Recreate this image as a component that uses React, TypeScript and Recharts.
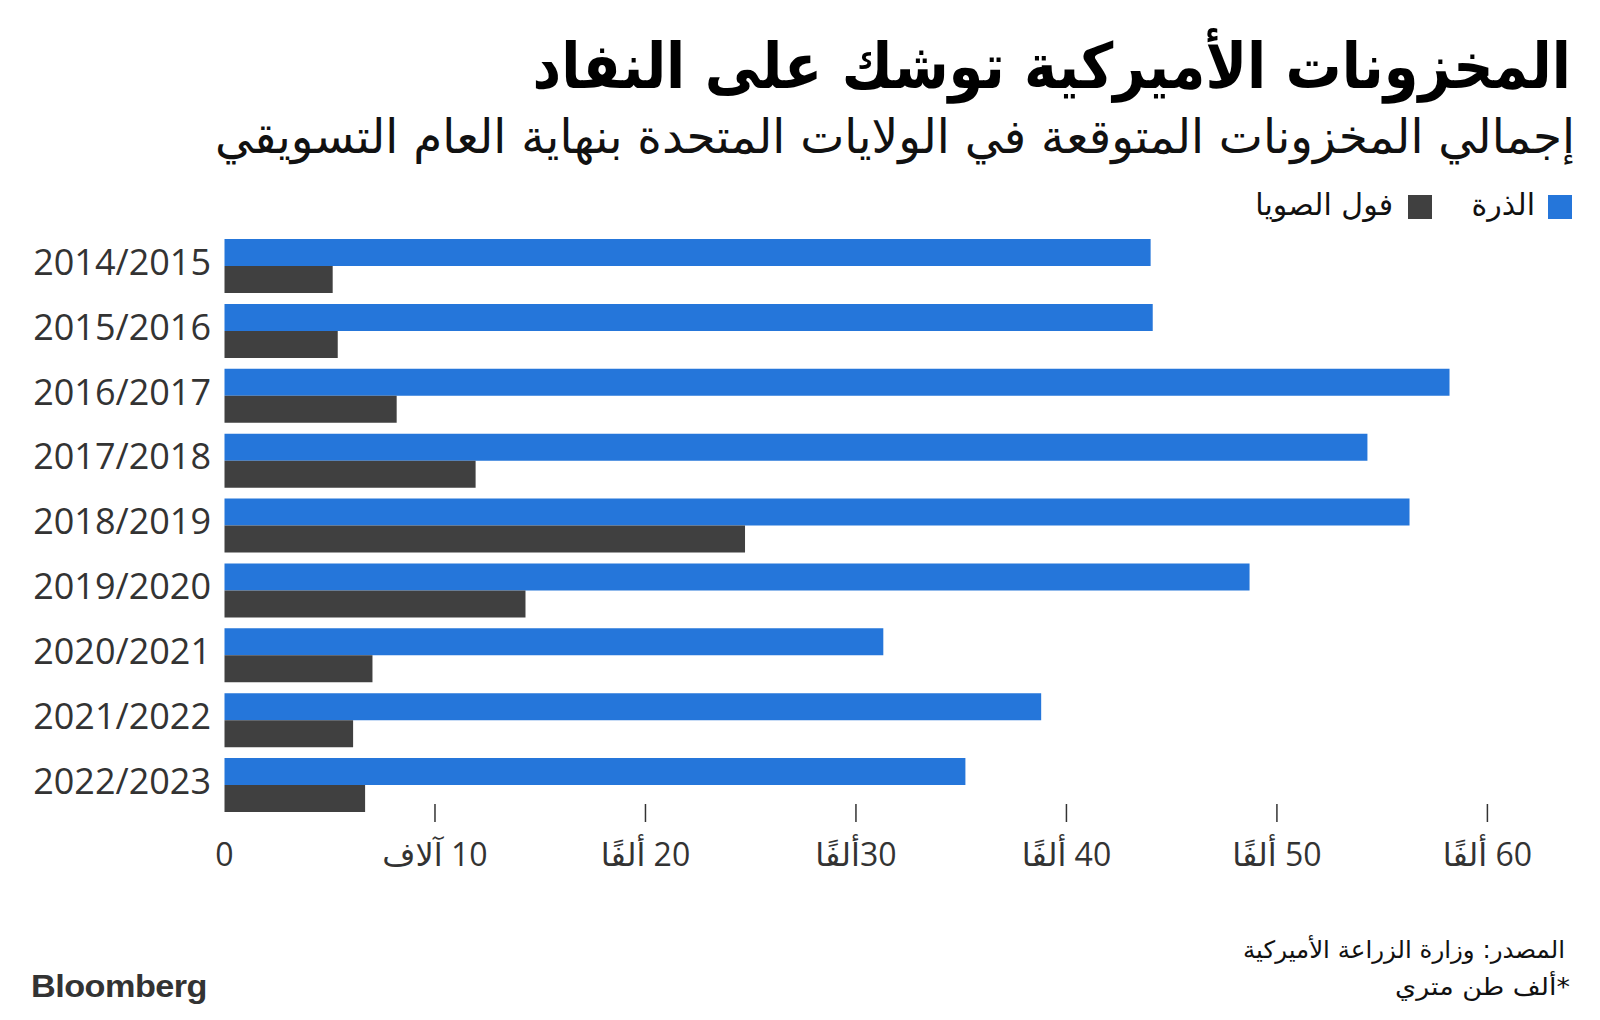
import React from 'react';
import { BarChart, Bar, XAxis, YAxis } from 'recharts';

const years = ['2014/2015', '2015/2016', '2016/2017', '2017/2018', '2018/2019', '2019/2020', '2020/2021', '2021/2022', '2022/2023'];
const cornValues = [44.0, 44.1, 58.2, 54.3, 56.3, 48.7, 31.3, 38.8, 35.2];
const soyValues = [5.14, 5.38, 8.18, 11.93, 24.73, 14.3, 7.03, 6.11, 6.68];
const xTicks = [0, 10, 20, 30, 40, 50, 60];
const xTickLabels = ['0', '10 آلاف', '20 ألفًا', '30ألفًا', '40 ألفًا', '50 ألفًا', '60 ألفًا'];
const seriesNames = ['الذرة', 'فول الصويا'];
const titleText = 'المخزونات الأميركية توشك على النفاد';
const subtitleText = 'إجمالي المخزونات المتوقعة في الولايات المتحدة بنهاية العام التسويقي';
const sourceText = 'المصدر: وزارة الزراعة الأميركية';
const unitText = '*ألف طن متري';

const BLUE = '#2576DA';
const DARK = '#404040';
const TEXT = '#333333';
const RLM = '\u200F';

const data = years.map((y, i) => ({ year: y, corn: cornValues[i], soy: soyValues[i] }));

const XTick = (props: any) => {
  const { x, y, payload } = props;
  const idx = xTicks.indexOf(payload.value);
  const label = idx >= 0 ? xTickLabels[idx] : String(payload.value);
  return (
    <g>
      {payload.value !== 0 && (
        <line x1={x} x2={x} y1={y - 14} y2={y + 4} stroke={TEXT} strokeWidth={1.5} />
      )}
      <text x={x} y={y + 48} textAnchor="middle" fontSize={32} fontFamily="'Open Sans', 'DejaVu Sans', sans-serif" fill={TEXT}>
        {RLM + label}
      </text>
    </g>
  );
};

const YTick = (props: any) => {
  const { x, y, payload } = props;
  return (
    <text x={x - 13.5} y={y + 8.3} textAnchor="end" fontSize={36} fontFamily="'Open Sans', sans-serif" fill={TEXT}>
      {payload.value}
    </text>
  );
};

export default function App() {
  const arFont = "'DejaVu Sans', sans-serif";
  return (
    <div style={{ position: 'absolute', left: 0, top: 0, width: 1600, height: 1020, background: '#fff', overflow: 'hidden' }}>
      <div style={{ position: 'absolute', left: 0, top: 0 }}>
        <BarChart
          width={1600}
          height={1020}
          data={data}
          layout="vertical"
          margin={{ top: 234, right: 70.5, bottom: 152, left: 0 }}
          barGap={0}
        >
          <XAxis
            type="number"
            domain={[0, 62]}
            ticks={xTicks}
            interval={0}
            axisLine={false}
            tickLine={false}
            tickSize={0}
            tickMargin={0}
            height={50}
            tick={<XTick />}
          />
          <YAxis
            type="category"
            dataKey="year"
            width={224.5}
            interval={0}
            axisLine={false}
            tickLine={false}
            tickSize={0}
            tickMargin={0}
            tick={<YTick />}
          />
          <Bar dataKey="corn" name={seriesNames[0]} fill={BLUE} barSize={27} isAnimationActive={false} />
          <Bar dataKey="soy" name={seriesNames[1]} fill={DARK} barSize={27} isAnimationActive={false} />
        </BarChart>
      </div>
      <svg width={1600} height={1020} style={{ position: 'absolute', left: 0, top: 0, pointerEvents: 'none' }}>
        <g transform="translate(1571,88) scale(0.887,1)">
          <text x={0} y={0} textAnchor="end" fontSize={63} fontWeight="bold" fontFamily={arFont} fill="#000">
            {titleText}
          </text>
        </g>
        <text x={1575} y={153} textAnchor="end" fontSize={47} fontFamily={arFont} fill="#111"
          textLength={1360} lengthAdjust="spacingAndGlyphs">
          {subtitleText}
        </text>
        <rect x={1548} y={195} width={24} height={24} fill={BLUE} />
        <text x={1535} y={215} textAnchor="end" fontSize={30} fontFamily={arFont} fill="#111">
          {seriesNames[0]}
        </text>
        <rect x={1408} y={195} width={24} height={24} fill={DARK} />
        <text x={1393} y={215} textAnchor="end" fontSize={30} fontFamily={arFont} fill="#111">
          {seriesNames[1]}
        </text>
        <text x={1565} y={958} textAnchor="end" fontSize={24} fontFamily={arFont} fill="#111"
          textLength={322} lengthAdjust="spacingAndGlyphs">
          {sourceText}
        </text>
        <text x={1570} y={995} textAnchor="end" fontSize={24} fontFamily={arFont} fill="#111"
          textLength={175} lengthAdjust="spacingAndGlyphs">
          {RLM + unitText}
        </text>
        <text x={31} y={997} fontSize={32} fontWeight="bold" fontFamily="'Liberation Sans', Arial, sans-serif" fill={TEXT}
          textLength={176} lengthAdjust="spacingAndGlyphs" letterSpacing={-0.5}>
          Bloomberg
        </text>
      </svg>
    </div>
  );
}
